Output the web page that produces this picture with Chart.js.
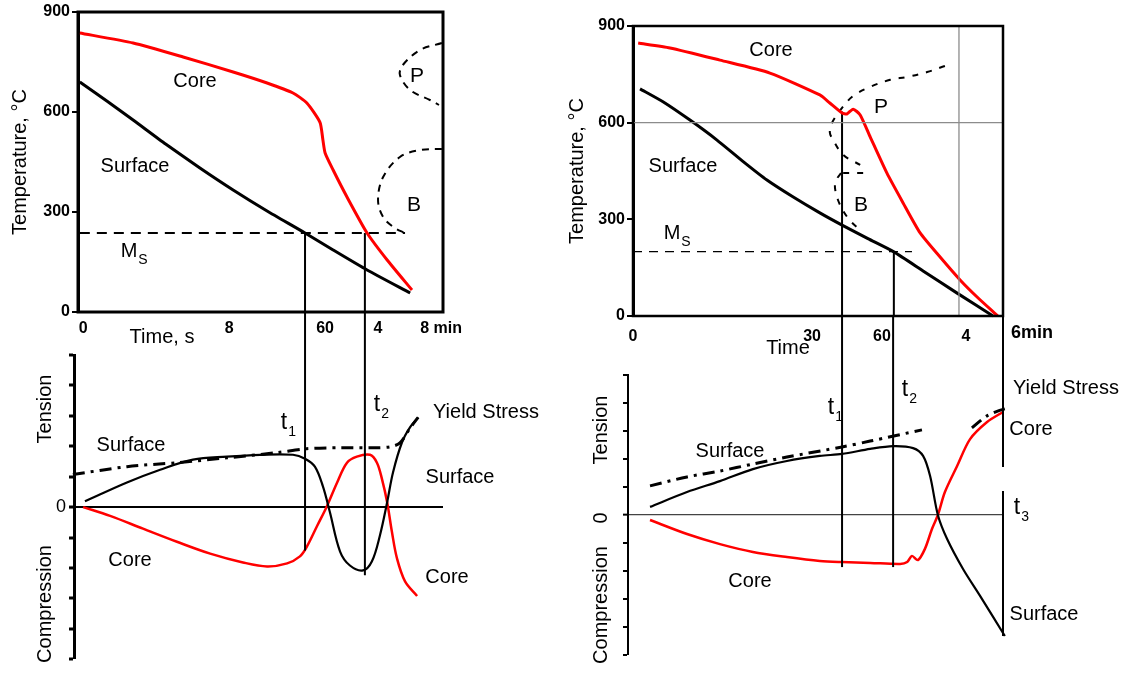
<!DOCTYPE html>
<html>
<head>
<meta charset="utf-8">
<script src="https://cdn.jsdelivr.net/npm/chart.js@4.4.1/dist/chart.umd.min.js"></script>
<style>
  body { margin: 0; background: #fff; width: 1129px; height: 673px; position: relative; overflow: hidden; }
  canvas { position: absolute; }
</style>
</head>
<body>
<canvas id="tl" width="570" height="352" style="left:0;top:0"></canvas>
<canvas id="tr" width="564" height="365" style="left:565px;top:0"></canvas>
<canvas id="bl" width="570" height="361" style="left:0;top:312px"></canvas>
<canvas id="br" width="564" height="357" style="left:565px;top:316px"></canvas>
<script>
// time axes are read as % of the axis length (the original axes are not linear)

// ---- left: temperature ----
const tlTimeTicks = [1.4, 41.4, 67.7, 82.2, 99.5];
const tlTimeLabels = ["0", "8", "60", "4", "8 min"];
const tlCoreTime = [0.5, 15.1, 28.8, 42.5, 51.8, 58.9, 62.7, 66.3, 67.1, 67.7, 69.9, 73.7, 79.2, 84.7, 91.5];
const tlCoreTemp = [837, 807, 765, 720, 687, 657, 627, 569, 516, 477, 426, 345, 237, 156, 66];
const tlSurfTime = [0.5, 7.9, 15.1, 24, 33.4, 42.5, 51.8, 62.2, 69.9, 79.2, 91.0];
const tlSurfTemp = [690, 633, 576, 504, 432, 366, 303, 237, 186, 126, 57];
const tlMsTemp = 237;
const tlMsTime = [0.5, 89.6];
const tlPTime = [99.7, 93.7, 89.0, 88.2, 91.0, 96.4, 98.9];
const tlPTemp = [807, 786, 741, 711, 666, 636, 621];
const tlBTime = [99.7, 93.7, 88.2, 83.6, 82.2, 83.6, 86.8, 89.6];
const tlBTemp = [489, 486, 465, 405, 336, 285, 252, 237];
const tlMarks = [62.2, 78.6];

// ---- left: stress ----
const blSurfTime = [1.9, 13.4, 22.5, 31.5, 40.8, 49.9, 58.9, 62.2, 64.9, 67.1, 69.0, 71.8, 74.5, 78.1, 80.5, 82.7, 84.7, 86.3, 88.8, 91.0, 93.2];
const blSurfStress = [0.19, 0.81, 1.23, 1.56, 1.66, 1.72, 1.72, 1.59, 1.33, 0.68, -0.16, -1.46, -1.92, -2.08, -1.79, -0.94, 0.16, 1.14, 2.14, 2.63, 2.95];
const blCoreTime = [1.4, 8.8, 17.8, 27.1, 36.2, 45.2, 51.8, 57.3, 60.8, 62.7, 65.5, 68.2, 71.0, 73.7, 76.4, 80.0, 81.9, 83.3, 84.7, 86.0, 87.4, 89.6, 92.9];
const blCoreStress = [0, -0.29, -0.71, -1.14, -1.53, -1.82, -1.95, -1.85, -1.62, -1.30, -0.62, 0.03, 0.81, 1.46, 1.66, 1.72, 1.46, 0.91, 0.16, -0.81, -1.69, -2.44, -2.92];
const blYieldTime = [-1.4, 13.4, 27.1, 40.8, 54.5, 62.7, 71.8, 80.8, 85.5, 88.2, 91.0, 93.2];
const blYieldStress = [1.07, 1.33, 1.46, 1.62, 1.79, 1.92, 1.95, 1.95, 1.98, 2.11, 2.60, 2.95];
const blMarkEnd = [-1.43, -2.24];

// ---- right: temperature ----
const trTimeTicks = [0, 48.4, 67.3, 90.0];
const trTimeLabels = ["0", "30", "60", "4"];
const trCoreTime = [1.4, 10.0, 23.5, 37.0, 50.5, 53.2, 56.5, 57.8, 59.5, 61.4, 64.1, 68.6, 73.0, 77.6, 83.0, 88.4, 93.0, 98.6];
const trCoreTemp = [847, 832, 794, 754, 686, 661, 630, 627, 642, 624, 556, 444, 351, 258, 183, 112, 59, 0];
const trSurfTime = [1.9, 8.1, 15.4, 22.7, 29.7, 36.2, 43.2, 50.5, 56.5, 63.5, 70.5, 78.4, 87.6, 97.3];
const trSurfTemp = [705, 665, 608, 546, 480, 422, 370, 320, 282, 240, 199, 140, 71, 0];
const trMsTemp = 200;
const trMsTime = [0, 75.4];
const trPTime = [84.3, 79.5, 74.1, 69.5, 64.1, 59.5, 56.5, 53.8, 53.2, 54.1, 56.8, 61.4];
const trPTemp = [776, 757, 742, 733, 711, 683, 646, 600, 570, 546, 500, 469];
const trBsTime = [56.8, 64.1];
const trBsTemp = 444;
const trBTime = [56.2, 54.6, 55.4, 58.1, 61.9];
const trBTemp = [444, 413, 360, 304, 261];
const trGridTime = 88.1;   // 4 min
const trGridTemp = 600;
const trMarks = [56.5, 70.5];
const trMarkTop = [635, trMsTemp];

// ---- right: stress ----
const brSurfTime = [4.6, 14.6, 23.5, 32.4, 41.6, 50.5, 56.5, 64.1, 70.3, 75.7, 78.4, 80.3, 82.4, 84.9, 89.2, 93.8, 100.5];
const brSurfStress = [0.29, 0.82, 1.21, 1.64, 1.93, 2.11, 2.18, 2.36, 2.46, 2.39, 2.11, 1.39, 0, -0.86, -1.93, -2.89, -4.32];
const brCoreTime = [4.6, 14.6, 23.5, 32.4, 41.6, 50.5, 56.5, 64.1, 72.2, 74.1, 75.4, 77.0, 78.9, 80.8, 82.4, 84.3, 87.6, 91.1, 95.7, 100];
const brCoreStress = [-0.18, -0.68, -1.04, -1.32, -1.50, -1.64, -1.68, -1.71, -1.75, -1.68, -1.46, -1.61, -1.21, -0.50, 0, 0.82, 1.75, 2.71, 3.32, 3.68];
const brYield1Time = [4.6, 14.6, 23.5, 32.4, 41.6, 56.5, 64.1, 78.1];
const brYield1Stress = [1.04, 1.36, 1.57, 1.82, 2.07, 2.43, 2.64, 3.04];
const brYield2Time = [91.6, 95.7, 100.5, 109.2, 116.2, 124.1];
const brYield2Stress = [3.11, 3.54, 3.79, 3.93, 3.96, 3.89];
const brMarks = [56.5, 70.3];
const brMarkEnd = [-1.86, -1.86];
const brT3 = 100;
const brT3Gap = [1.71, 0.86];
const brT3End = -4.32;

const FONT = "'Liberation Sans', Arial, sans-serif";
Chart.defaults.font.family = FONT;
Chart.defaults.color = "#000";

function pts(xs, ys) { return xs.map((x, i) => ({ x: x, y: Array.isArray(ys) ? ys[i] : ys })); }
function curve(xs, ys, color, width, dash, tension) {
  return {
    data: pts(xs, ys), showLine: true, borderColor: color, borderWidth: width,
    borderDash: dash || [], pointRadius: 0, fill: false, clip: false,
    tension: tension === undefined ? 0.2 : tension
  };
}

// frame, drop lines and free text
function decor(cfg) {
  return {
    id: "decor",
    afterDatasetsDraw(chart) {
      const ctx = chart.ctx, a = chart.chartArea;
      const xs = chart.scales.x, ys = chart.scales.y;
      ctx.save();
      if (cfg.frame) {
        ctx.strokeStyle = "#000";
        ctx.lineWidth = cfg.frame;
        ctx.strokeRect(a.left, a.top, a.right - a.left, a.bottom - a.top);
      }
      (cfg.drops || []).forEach(d => {
        const x = xs.getPixelForValue(d.t);
        ctx.strokeStyle = "#000";
        ctx.lineWidth = 2;
        ctx.beginPath();
        ctx.moveTo(x, d.from === undefined ? 0 : ys.getPixelForValue(d.from));
        ctx.lineTo(x, ys.getPixelForValue(d.to));
        ctx.stroke();
      });
      ctx.fillStyle = "#000";
      ctx.textBaseline = "middle";
      (cfg.notes || []).forEach(n => {
        ctx.save();
        ctx.translate(n.x - cfg.org[0], n.y - cfg.org[1]);
        if (n.rot) ctx.rotate(-Math.PI / 2);
        ctx.font = (n.bold ? "bold " : "") + (n.size || 20) + "px " + FONT;
        ctx.textAlign = "center";
        ctx.fillText(n.text, 0, 0);
        if (n.sub) {
          const w = ctx.measureText(n.text).width;
          ctx.font = "14px " + FONT;
          ctx.textAlign = "left";
          ctx.fillText(n.sub, w / 2 + 1, 9);
        }
        ctx.restore();
      });
      ctx.restore();
    }
  };
}

function tempAxis(width, titlePad) {
  return {
    min: 0, max: 900,
    afterFit: s => { s.width = width; },
    ticks: { stepSize: 300, padding: 2, font: { size: 16, weight: "bold" } },
    grid: { drawOnChartArea: false, tickLength: 6, color: "#000", lineWidth: 2 },
    border: { color: "#000", width: 3 },
    title: { display: true, text: "Temperature, °C", font: { size: 20 }, padding: { top: titlePad, bottom: 0 } }
  };
}

function timeAxis(ticks, labels, height, pad, min) {
  return {
    type: "linear", min: min, max: 100,
    afterFit: s => { s.height = height; },
    afterBuildTicks: s => { s.ticks = ticks.map(v => ({ value: v })); },
    ticks: { autoSkip: false, maxRotation: 0, padding: pad, font: { size: 16, weight: "bold" }, callback: (v, i) => labels[i] },
    grid: { display: false, drawTicks: false },
    border: { display: false }
  };
}

function stressAxis(width, zeroLabel, w, zeroColor, zeroWidth) {
  return {
    min: -5, max: 5,
    afterFit: s => { s.width = width; },
    ticks: { stepSize: 1, padding: 3, font: { size: 18 }, callback: v => (zeroLabel && v === 0 ? "0" : "") },
    grid: {
      color: c => (c.tick && c.tick.value === 0 ? zeroColor : "rgba(0,0,0,0)"),
      lineWidth: c => (c.tick && c.tick.value === 0 ? zeroWidth : 0),
      tickColor: "#000", tickWidth: w, tickLength: 5
    },
    border: { color: "#000", width: w }
  };
}

const base = { responsive: false, animation: false, events: [], plugins: { legend: { display: false }, tooltip: { enabled: false } } };

// top left
new Chart(document.getElementById("tl"), {
  type: "scatter",
  data: { datasets: [
    curve(tlCoreTime, tlCoreTemp, "#ff0000", 3),
    curve(tlSurfTime, tlSurfTemp, "#000", 3),
    curve(tlMsTime, tlMsTemp, "#000", 2, [10, 7], 0),
    curve(tlPTime, tlPTemp, "#000", 2, [7, 6], 0.35),
    curve(tlBTime, tlBTemp, "#000", 2, [7, 6], 0.35),
    curve([tlMarks[0], tlMarks[0]], [tlMsTemp, 0], "#000", 2, null, 0),
    curve([tlMarks[1], tlMarks[1]], [tlMsTemp, 0], "#000", 2, null, 0)
  ] },
  options: Object.assign({}, base, {
    layout: { padding: { left: 0, top: 12, right: 127, bottom: 0 } },
    scales: { x: timeAxis(tlTimeTicks, tlTimeLabels, 40, 7, 0), y: tempAxis(78, 8) }
  }),
  plugins: [decor({ org: [0, 0], frame: 3, notes: [
    { text: "Core", x: 195, y: 81 },
    { text: "Surface", x: 135, y: 166 },
    { text: "M", sub: "S", x: 129, y: 251 },
    { text: "P", x: 417, y: 76, size: 21 },
    { text: "B", x: 414, y: 205, size: 21 },
    { text: "Time, s", x: 162, y: 337 }
  ] })]
});

// top right
new Chart(document.getElementById("tr"), {
  type: "scatter",
  data: { datasets: [
    curve([trGridTime, trGridTime], [0, 900], "#8c8c8c", 1.3, null, 0),
    curve([0, 100], [trGridTemp, trGridTemp], "#8c8c8c", 1.3, null, 0),
    curve(trCoreTime, trCoreTemp, "#ff0000", 3),
    curve(trSurfTime, trSurfTemp, "#000", 3),
    curve(trMsTime, trMsTemp, "#000", 1.2, [9, 7], 0),
    curve(trPTime, trPTemp, "#000", 2, [6, 8], 0.35),
    curve(trBsTime, trBsTemp, "#000", 2, [6, 8], 0),
    curve(trBTime, trBTemp, "#000", 2, [6, 8], 0.35),
    curve([trMarks[0], trMarks[0]], [trMarkTop[0], 0], "#000", 2, null, 0),
    curve([trMarks[1], trMarks[1]], [trMarkTop[1], 0], "#000", 2, null, 0)
  ] },
  options: Object.assign({}, base, {
    layout: { padding: { left: 0, top: 26, right: 126, bottom: 0 } },
    scales: { x: timeAxis(trTimeTicks, trTimeLabels, 49, 11, 0), y: tempAxis(68, 0) }
  }),
  plugins: [decor({ org: [565, 0], frame: 2.5, notes: [
    { text: "Core", x: 771, y: 50 },
    { text: "Surface", x: 683, y: 166 },
    { text: "M", sub: "S", x: 672, y: 233 },
    { text: "P", x: 881, y: 107, size: 21 },
    { text: "B", x: 861, y: 205, size: 21 },
    { text: "Time", x: 788, y: 348 },
    { text: "6min", x: 1032, y: 333, size: 18, bold: true }
  ] })]
});

// bottom left
new Chart(document.getElementById("bl"), {
  type: "scatter",
  data: { datasets: [
    curve(blYieldTime, blYieldStress, "#000", 3, [12, 6, 3, 6], 0.3),
    curve(blSurfTime, blSurfStress, "#000", 2.2, null, 0.35),
    curve(blCoreTime, blCoreStress, "#ff0000", 2.5, null, 0.35)
  ] },
  options: Object.assign({}, base, {
    layout: { padding: { left: 0, top: 43, right: 127, bottom: 10 } },
    scales: {
      x: { type: "linear", display: false, min: -1.1, max: 100 },
      y: stressAxis(74, true, 3, "#000", 2)
    }
  }),
  plugins: [decor({ org: [0, 312],
    drops: tlMarks.map((t, i) => ({ t: t, to: blMarkEnd[i] })),
    notes: [
      { text: "Surface", x: 131, y: 445 },
      { text: "Core", x: 130, y: 560 },
      { text: "t", sub: "1", x: 284, y: 423, size: 23 },
      { text: "t", sub: "2", x: 377, y: 405, size: 23 },
      { text: "Yield Stress", x: 486, y: 412 },
      { text: "Surface", x: 460, y: 477 },
      { text: "Core", x: 447, y: 577 },
      { text: "Tension", x: 45, y: 409, rot: true },
      { text: "Compression", x: 45, y: 604, rot: true }
    ] })]
});

// bottom right
new Chart(document.getElementById("br"), {
  type: "scatter",
  data: { datasets: [
    curve(brYield1Time, brYield1Stress, "#000", 3, [12, 6, 3, 6], 0.3),
    curve(brYield2Time, brYield2Stress, "#000", 3, [12, 6, 3, 6], 0.3),
    curve(brSurfTime, brSurfStress, "#000", 2.2, null, 0.3),
    curve(brCoreTime, brCoreStress, "#ff0000", 2.5, null, 0.3)
  ] },
  options: Object.assign({}, base, {
    layout: { padding: { left: 0, top: 59, right: 126, bottom: 18 } },
    scales: {
      x: { type: "linear", display: false, min: -1.35, max: 100 },
      y: stressAxis(63, false, 2, "#444", 1.3)
    }
  }),
  plugins: [decor({ org: [565, 316],
    drops: brMarks.map((t, i) => ({ t: t, to: brMarkEnd[i] })).concat([
      { t: brT3, to: brT3Gap[0] },
      { t: brT3, from: brT3Gap[1], to: brT3End }
    ]),
    notes: [
      { text: "Surface", x: 730, y: 451 },
      { text: "Core", x: 750, y: 581 },
      { text: "t", sub: "1", x: 831, y: 408, size: 23 },
      { text: "t", sub: "2", x: 905, y: 390, size: 23 },
      { text: "Yield Stress", x: 1066, y: 388 },
      { text: "Core", x: 1031, y: 429 },
      { text: "t", sub: "3", x: 1017, y: 508, size: 23 },
      { text: "Surface", x: 1044, y: 614 },
      { text: "Tension", x: 601, y: 430, rot: true },
      { text: "0", x: 601, y: 518, rot: true },
      { text: "Compression", x: 601, y: 605, rot: true }
    ] })]
});
</script>
</body>
</html>
